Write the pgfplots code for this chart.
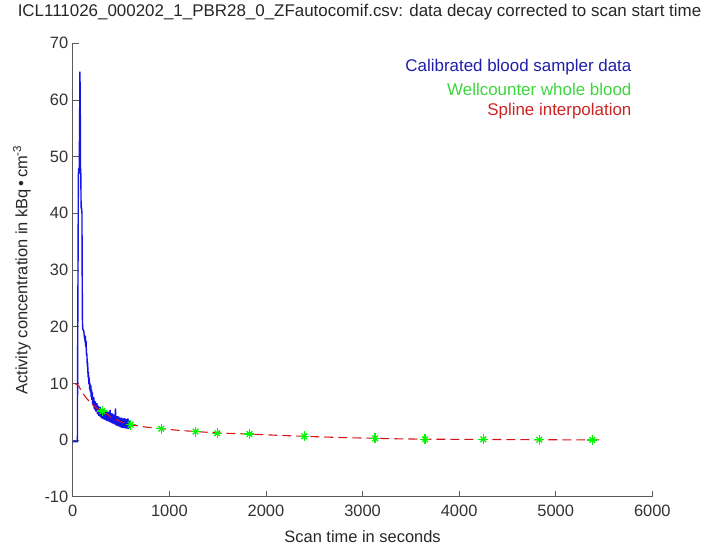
\documentclass[border=0pt]{standalone}
\usepackage{pgfplots}
\pgfplotsset{compat=1.18}
\usepackage{fontspec}
\setmainfont{Liberation Sans}
\definecolor{bl}{RGB}{20,20,230}
\definecolor{bltxt}{RGB}{30,30,170}
\definecolor{gr}{RGB}{0,245,0}
\definecolor{grtxt}{RGB}{60,215,60}
\definecolor{rd}{RGB}{215,20,30}
\definecolor{rdtxt}{RGB}{205,35,35}
\definecolor{ax}{RGB}{90,90,90}
\begin{document}
\begin{tikzpicture}
\begin{axis}[
  at={(0,0)}, anchor=south west,
  scale only axis, width=579.5bp, height=453.4bp,
  xmin=0, xmax=6000, ymin=-10, ymax=70,
  axis x line=bottom, axis y line=left,
  axis line style={-, draw=ax, line width=0.9bp},
  tick align=inside, major tick length=6bp,
  tick style={draw=ax, line width=0.9bp},
  xtick={0,1000,...,6000}, ytick={-10,0,...,70},
  scaled x ticks=false,
  /pgf/number format/assume math mode=true,
  /pgf/number format/1000 sep={},
  tick label style={font=\fontsize{16.5}{18}\selectfont, text=black!80},
  yticklabel style={xshift=-1bp},
  xticklabel style={yshift=-5bp},
  clip=false,
  title={ICL111026\_000202\_1\_PBR28\_0\_ZFautocomif.csv: data decay corrected to scan start time},
  title style={at={(axis description cs:0.4948,1.0558)}, anchor=center, font=\fontsize{17}{19}\selectfont, text=black!85},
  xlabel={Scan time in seconds},
  xlabel style={at={(axis description cs:0.5,-0.0882)}, anchor=center, font=\fontsize{16.5}{18}\selectfont, text=black!85},
  ylabel={Activity concentration in kBq\,\raisebox{0.1ex}{•}\,cm\textsuperscript{-3}},
  ylabel style={at={(axis description cs:-0.0877,0.5)}, anchor=center, font=\fontsize{16.5}{18}\selectfont, text=black!85},
]
\addplot[bl, line width=1.4bp] coordinates {
(0,-0.3)(10,-0.3)(20,-0.25)(30,-0.3)(40,-0.3)(48,-0.3)(50,13.5)(54,30)(58,47)(62,48)(66,47)(70,55)(74,65)(77,60)(80,48)(83,47)(86,41)(90,41)(95,40)(97,30)(100,21)(103,19.5)(106,19.5)(110,19.4)(114,19.2)(118,18.5)(122,18)(126,17.6)
(130,18.4)(134,16.4)(138,17.5)(142,14.8)(146,15.3)(150,13.0)(154,13.7)(158,11.1)(162,12.0)(166,9.9)(170,11.0)(174,8.9)(178,10.0)(182,8.4)(186,9.7)(190,7.6)(194,8.9)(198,7.1)(202,8.4)(206,6.4)(210,7.6)(214,6.1)(218,7.5)(222,5.5)(226,6.9)(230,5.3)(234,6.8)(238,5.0)(242,6.4)(246,5.0)(250,6.5)(254,4.6)(258,6.1)(262,4.5)(266,6.0)(270,4.25)(274,5.7)(278,4.3)(282,5.85)(286,4.0)(290,5.55)(294,4.0)(298,5.55)(302,3.8)(306,5.25)(310,3.9)
(314,5.5)(318,3.65)(322,5.2)(326,3.7)(330,5.3)(334,3.55)(338,5.0)(342,3.65)(346,5.2)(350,3.4)(354,5.0)(358,3.45)(362,5.0)(366,3.3)(370,4.75)(374,3.4)(378,5.0)(382,3.15)(386,5.3)(390,3.15)(394,4.75)(398,3.0)(402,4.5)(406,3.15)(410,4.7)(414,2.9)(418,4.45)(422,2.9)(426,4.5)(430,2.75)(434,4.2)(438,2.85)(442,5.6)(446,2.6)(450,4.2)(454,2.65)(458,4.2)(462,2.5)(466,3.95)(470,2.6)(474,4.15)(478,2.35)(482,3.9)(486,2.4)(490,3.95)(494,2.25)(498,3.7)(502,2.4)(506,3.95)(510,2.15)(514,3.75)(518,2.2)(522,3.8)(526,2.1)(530,3.6)(534,2.25)(538,3.85)(542,2.05)(546,3.65)(550,2.15)(554,3.7)(558,2.0)(562,3.5)(566,2.2)(570,3.8)(574,1.95)(578,3.55)(582,2.05)(586,3.3)(590,2.6)
};
\addplot[rd, line width=1.1bp, dash pattern=on 9bp off 5bp] coordinates {
(20,10)(60,9.6)(100,8.3)(150,7.2)(200,6.3)(250,5.6)(307,5.1)(400,4.0)(500,3.2)(599,2.7)(750,2.3)(916,2.0)(1100,1.7)(1271,1.5)(1495,1.25)(1829,1.05)(2100,0.85)(2397,0.65)(2750,0.45)(3130,0.3)(3400,0.2)(3647,0.15)(4250,0.1)(4830,0.05)(5380,0.02)(5490,0.02)
};
\addplot[gr, only marks, mark=+, mark size=5bp, line width=1.3bp] coordinates {
(307,5.1)(599,2.7)(916,2.0)(1271,1.5)(1495,1.2)(1829,1.05)(2397,0.65)(3130,0.3)(3647,0.15)(4250,0.12)(4830,0.05)(5380,0.03)
};
\addplot[gr, only marks, mark=x, mark size=4bp, line width=1.3bp] coordinates {
(307,5.1)(599,2.7)(916,2.0)(1271,1.5)(1495,1.2)(1829,1.05)(2397,0.65)(3130,0.3)(3647,0.15)(4250,0.12)(4830,0.05)(5380,0.03)
};
\node[anchor=east, text=bltxt, font=\fontsize{17}{19}\selectfont] at (rel axis cs:0.970,0.948) {Calibrated blood sampler data};
\node[anchor=east, text=grtxt, font=\fontsize{17}{19}\selectfont] at (rel axis cs:0.970,0.899) {Wellcounter whole blood};
\node[anchor=east, text=rdtxt, font=\fontsize{17}{19}\selectfont] at (rel axis cs:0.970,0.851) {Spline interpolation};
\end{axis}
\pgfresetboundingbox
\path[use as bounding box] (-72.8bp,-48.3bp) rectangle (640.2bp,496.7bp);
\end{tikzpicture}
\end{document}
